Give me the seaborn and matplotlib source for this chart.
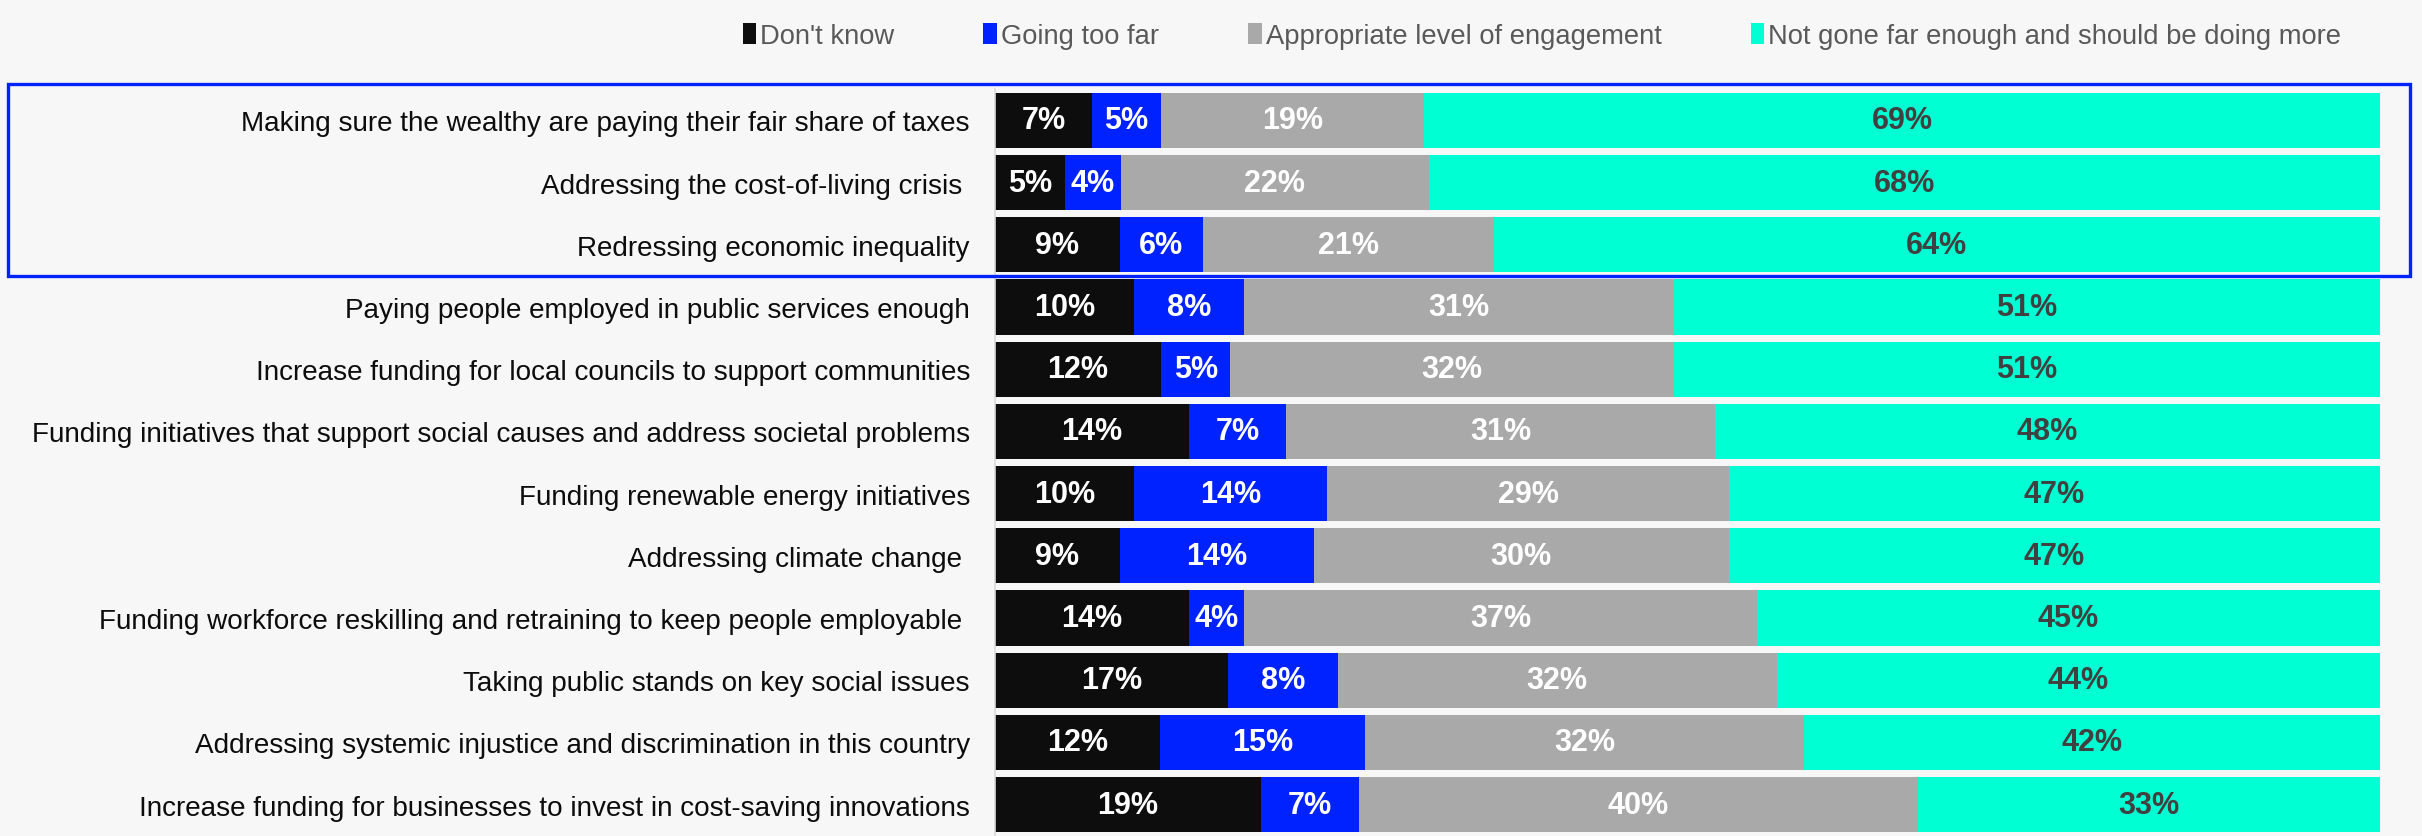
import matplotlib
matplotlib.use("Agg")
import matplotlib.pyplot as plt
from matplotlib.patches import Patch, Rectangle
import numpy as np
import pandas as pd
import seaborn as sns

# Survey items (top to bottom)
categories = [
    "Making sure the wealthy are paying their fair share of taxes",
    "Addressing the cost-of-living crisis ",
    "Redressing economic inequality",
    "Paying people employed in public services enough",
    "Increase funding for local councils to support communities",
    "Funding initiatives that support social causes and address societal problems",
    "Funding renewable energy initiatives",
    "Addressing climate change ",
    "Funding workforce reskilling and retraining to keep people employable ",
    "Taking public stands on key social issues",
    "Addressing systemic injustice and discrimination in this country",
    "Increase funding for businesses to invest in cost-saving innovations",
]

# Response shares (%)
dont_know = [7, 5, 9, 10, 12, 14, 10, 9, 14, 17, 12, 19]
too_far = [5, 4, 6, 8, 5, 7, 14, 14, 4, 8, 15, 7]
appropriate = [19, 22, 21, 31, 32, 31, 29, 30, 37, 32, 32, 40]
not_enough = [69, 68, 64, 51, 51, 48, 47, 47, 45, 44, 42, 33]

series_names = [
    "Don't know",
    "Going too far",
    "Appropriate level of engagement",
    "Not gone far enough and should be doing more",
]
colors = ["#0d0d0d", "#0022ff", "#a9a9a9", "#00ffd2"]
label_colors = ["white", "white", "white", "#404040"]

BG = "#f7f7f7"

sns.set_theme(style="white")
plt.rcParams["font.family"] = ["Liberation Sans", "DejaVu Sans"]

df = pd.DataFrame(
    {
        "category": categories,
        series_names[0]: dont_know,
        series_names[1]: too_far,
        series_names[2]: appropriate,
        series_names[3]: not_enough,
    }
)
vals = df[series_names].to_numpy(dtype=float)
# 100% stacked: scale each row to its total
shares = vals / vals.sum(axis=1, keepdims=True) * 100
cum = np.cumsum(shares, axis=1)

fig = plt.figure(figsize=(24.22, 8.37), dpi=100, facecolor=BG)
ax = fig.add_axes([995 / 2422, 0.3 / 837, (2380 - 995) / 2422, 746.4 / 837])
ax.set_facecolor(BG)

# Draw cumulative layers from the widest to the narrowest
for k in range(3, -1, -1):
    sns.barplot(
        x=cum[:, k],
        y=df["category"],
        orient="h",
        color=colors[k],
        width=0.89,
        saturation=1,
        linewidth=0,
        ax=ax,
    )

# Segment labels
for i in range(len(categories)):
    for k in range(4):
        left = cum[i, k - 1] if k > 0 else 0.0
        center = left + shares[i, k] / 2
        ax.text(
            center,
            i,
            f"{int(vals[i, k])}%",
            ha="center",
            va="center",
            color=label_colors[k],
            fontsize=22,
            fontweight="bold",
        )

ax.set_xlim(0, 100)
ax.set_ylim(len(categories) - 0.5, -0.5)
ax.set_xlabel("")
ax.set_ylabel("")
ax.set_xticks([])
ax.tick_params(axis="y", length=0, pad=18, labelsize=20.1, labelcolor="#0d0d0d")
for side in ["top", "right", "bottom"]:
    ax.spines[side].set_visible(False)
ax.spines["left"].set_color("#d9d9d9")
ax.spines["left"].set_linewidth(1.2)

# Legend across the top
handles = [Patch(facecolor=c, edgecolor="none") for c in colors]
leg = fig.legend(
    handles,
    series_names,
    loc="center",
    bbox_to_anchor=(1542 / 2422, 1 - 37 / 837),
    ncol=4,
    frameon=False,
    fontsize=19.7,
    handlelength=0.5,
    handleheight=0.8,
    handletextpad=0.15,
    columnspacing=3.25,
)
for t in leg.get_texts():
    t.set_color("#595959")

# Highlight box around the top three items
box = Rectangle(
    (8 / 2422, 1 - 277 / 837),
    (2410 - 8) / 2422,
    (277 - 85) / 837,
    transform=fig.transFigure,
    fill=False,
    edgecolor="#0022ff",
    linewidth=2.4,
)
fig.patches.append(box)

fig.savefig("out.png", dpi=100, facecolor=BG)
